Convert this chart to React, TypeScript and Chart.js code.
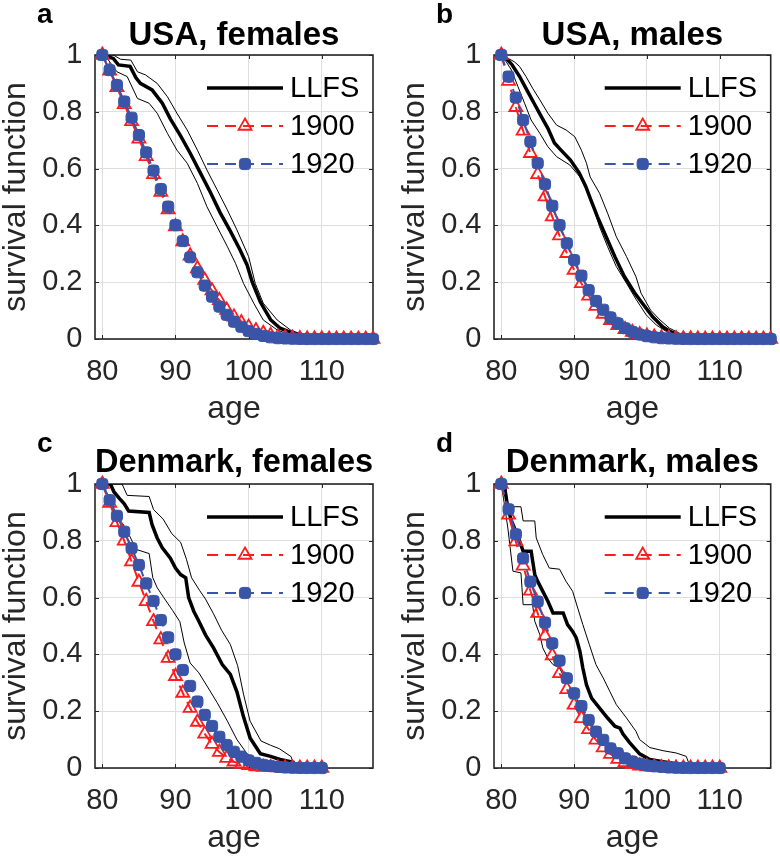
import React, { useEffect, useRef } from 'react';
import { Chart, registerables } from 'chart.js';
import { drawPoint } from 'chart.js/helpers';

Chart.register(...registerables);

const FONT = "'Liberation Sans', Arial, Helvetica, sans-serif";
const RED = '#ff1c1c';
const BLUE = '#3a55a8';
const AXIS = '#262626';
const GRID = '#dedede';

// ---- axes ----
const xTicks = [80, 90, 100, 110];
const yTicks = [0, 0.2, 0.4, 0.6, 0.8, 1];
const xMin = 79;
const xMax = 117;

// ---- cohort ages ----
const agesUSA = [80, 81, 82, 83, 84, 85, 86, 87, 88, 89, 90, 91, 92, 93, 94, 95, 96, 97, 98, 99,
  100, 101, 102, 103, 104, 105, 106, 107, 108, 109, 110, 111, 112, 113, 114, 115, 116, 117];
const agesDK = [80, 81, 82, 83, 84, 85, 86, 87, 88, 89, 90, 91, 92, 93, 94, 95, 96, 97, 98, 99,
  100, 101, 102, 103, 104, 105, 106, 107, 108, 109, 110];

// ---- USA, females ----
const usaF1900 = [1.0, 0.944, 0.886, 0.826, 0.766, 0.705, 0.643, 0.58, 0.517, 0.456, 0.396, 0.343, 0.293,
  0.248, 0.207, 0.17, 0.136, 0.102, 0.078, 0.058, 0.042, 0.03, 0.02, 0.013, 0.008, 0.005, 0.003, 0.002,
  0.001, 0.001, 0.0005, 0, 0, 0, 0, 0, 0, 0];
const usaF1920 = [1.0, 0.947, 0.894, 0.836, 0.779, 0.718, 0.657, 0.593, 0.528, 0.466, 0.401, 0.345, 0.288,
  0.235, 0.188, 0.149, 0.114, 0.085, 0.061, 0.043, 0.028, 0.018, 0.011, 0.006, 0.003, 0.002, 0.001, 0.0005,
  0, 0, 0, 0, 0, 0, 0, 0, 0, 0];
const usaFLLFS = [[80, 1], [81.5, 0.988], [82.2, 0.965], [83.8, 0.96], [84.6, 0.92], [85.2, 0.9], [86.8, 0.877],
  [88.2, 0.83], [89.3, 0.775], [90.7, 0.715], [92, 0.655], [93.4, 0.585], [94.8, 0.515], [96.1, 0.445],
  [97.5, 0.38], [98.8, 0.315], [99.8, 0.26], [100.5, 0.2], [101.6, 0.13], [103, 0.068], [104.3, 0.038],
  [106.1, 0.02], [107.9, 0.008], [110, 0]];
const usaFUpper = [[80, 1], [81.5, 1], [82.5, 0.985], [83.9, 0.982], [84.8, 0.941], [85.9, 0.93], [87.5, 0.9],
  [88.9, 0.853], [90.2, 0.795], [91.6, 0.736], [93, 0.665], [94.3, 0.595], [95.7, 0.525], [97.1, 0.454],
  [98.4, 0.384], [100, 0.29], [100.9, 0.196], [102, 0.126], [103.9, 0.067], [105.7, 0.032], [107.5, 0.014],
  [109.8, 0.006], [111, 0]];
const usaFLower = [[80, 1], [80.5, 0.994], [82, 0.941], [83.4, 0.924], [84.8, 0.847], [86.4, 0.83], [87.5, 0.795],
  [88.9, 0.724], [90.2, 0.665], [91.6, 0.619], [93, 0.548], [94.3, 0.466], [95.7, 0.395], [97.1, 0.325],
  [98.2, 0.267], [99.3, 0.196], [100.7, 0.126], [102, 0.067], [103.9, 0.032], [105.7, 0.014], [107.5, 0.004],
  [109, 0]];

// ---- USA, males ----
const usaM1900 = [1.0, 0.908, 0.816, 0.733, 0.654, 0.58, 0.501, 0.431, 0.364, 0.302, 0.243, 0.196, 0.152,
  0.116, 0.088, 0.066, 0.048, 0.034, 0.024, 0.016, 0.011, 0.007, 0.004, 0.003, 0.002, 0.001, 0.001, 0.0005,
  0, 0, 0, 0, 0, 0, 0, 0, 0, 0];
const usaM1920 = [1.0, 0.924, 0.85, 0.771, 0.695, 0.619, 0.545, 0.469, 0.401, 0.337, 0.278, 0.223, 0.172,
  0.134, 0.103, 0.076, 0.055, 0.038, 0.025, 0.016, 0.01, 0.006, 0.003, 0.002, 0.001, 0.0005,
  0, 0, 0, 0, 0, 0, 0, 0, 0, 0, 0, 0];
const usaMLLFS = [[80, 1], [80.8, 0.985], [81.5, 0.965], [82.5, 0.925], [83.5, 0.877], [84.5, 0.83], [85.5, 0.783],
  [86.4, 0.742], [87.3, 0.69], [88.2, 0.665], [89.5, 0.63], [90.7, 0.585], [91.6, 0.537], [92.3, 0.49],
  [93.2, 0.431], [94.4, 0.36], [95.6, 0.29], [96.9, 0.22], [98.3, 0.163], [99.4, 0.125], [100.8, 0.078],
  [102.2, 0.042], [103.4, 0.024], [104.5, 0.012], [105.5, 0.004], [106.5, 0]];
const usaMUpper = [[80, 1], [80.8, 0.99], [81.8, 0.976], [82.5, 0.96], [83.4, 0.924], [84.3, 0.883], [85.3, 0.842],
  [86.4, 0.795], [87.6, 0.753], [88.9, 0.736], [90.1, 0.712], [91, 0.665], [91.7, 0.619], [92.2, 0.571],
  [93.5, 0.513], [94.6, 0.443], [95.8, 0.36], [97.2, 0.29], [98.5, 0.219], [99.2, 0.161], [100.5, 0.102],
  [101.8, 0.067], [103.1, 0.038], [104.5, 0.02], [105.9, 0.008], [107, 0]];
const usaMLower = [[80, 1], [80.7, 0.975], [81.4, 0.947], [82.3, 0.888], [83.2, 0.83], [84.1, 0.771], [85.3, 0.724],
  [86.4, 0.677], [87.6, 0.642], [89.4, 0.613], [90.8, 0.571], [91.7, 0.525], [92.6, 0.466], [93.5, 0.395],
  [94.6, 0.325], [95.8, 0.255], [97.2, 0.196], [98.5, 0.14], [99.9, 0.085], [101.3, 0.049], [102.7, 0.026],
  [104.1, 0.012], [105.5, 0.004], [106.5, 0]];

// ---- Denmark, females ----
const dkF1900 = [1.0, 0.933, 0.865, 0.8, 0.727, 0.655, 0.587, 0.516, 0.452, 0.387, 0.323, 0.264, 0.211,
  0.162, 0.12, 0.084, 0.056, 0.035, 0.022, 0.014, 0.009, 0.005, 0.003, 0.002, 0.001, 0.0005, 0, 0, 0, 0, 0];
const dkF1920 = [1.0, 0.943, 0.888, 0.832, 0.774, 0.715, 0.65, 0.588, 0.521, 0.46, 0.4, 0.345, 0.289,
  0.234, 0.187, 0.148, 0.11, 0.081, 0.057, 0.04, 0.027, 0.018, 0.011, 0.007, 0.004, 0.002, 0.001, 0.0005, 0, 0, 0];
const dkFLLFS = [[80, 1], [81.1, 1], [81.6, 0.972], [82.3, 0.95], [83, 0.93], [83.6, 0.905], [86.4, 0.9],
  [86.8, 0.857], [87.5, 0.81], [88.2, 0.775], [89.3, 0.739], [90, 0.704], [90.7, 0.681], [91.4, 0.67],
  [91.8, 0.6], [92.5, 0.552], [93.2, 0.517], [94.1, 0.469], [95.2, 0.423], [96.4, 0.364], [97.5, 0.33],
  [98.4, 0.268], [99.3, 0.18], [100.2, 0.106], [101.6, 0.05], [103, 0.041], [104.3, 0.03], [106.1, 0.02],
  [106.3, 0]];
const dkFUpper = [[80, 1], [82.7, 1], [83.4, 0.96], [86.4, 0.956], [87, 0.91], [88.3, 0.877], [89.5, 0.825],
  [90.7, 0.795], [91.5, 0.735], [92.2, 0.67], [93.3, 0.625], [94.1, 0.595], [95.2, 0.543], [96.3, 0.485],
  [97.5, 0.435], [98.5, 0.36], [99.3, 0.26], [100.2, 0.165], [101.7, 0.095], [103, 0.08], [104.2, 0.068],
  [105.8, 0.04], [106.3, 0]];
const dkFLower = [[80, 1], [80.6, 0.97], [81.2, 0.94], [82, 0.88], [82.8, 0.86], [83.5, 0.83], [84.6, 0.77],
  [86.4, 0.755], [86.9, 0.67], [87.5, 0.635], [88.4, 0.6], [89.6, 0.555], [90.6, 0.515], [91.2, 0.44],
  [92, 0.37], [93.2, 0.335], [94.4, 0.285], [95.7, 0.23], [97.1, 0.165], [98.4, 0.1], [99.8, 0.05],
  [101.1, 0.028], [102.5, 0.01], [104, 0]];

// ---- Denmark, males ----
const dkM1900 = [1.0, 0.891, 0.797, 0.712, 0.624, 0.545, 0.465, 0.396, 0.333, 0.277, 0.222, 0.175, 0.136,
  0.099, 0.072, 0.049, 0.031, 0.02, 0.013, 0.008, 0.005, 0.003, 0.002, 0.001, 0.0005, 0, 0, 0, 0, 0, 0];
const dkM1920 = [1.0, 0.911, 0.823, 0.738, 0.656, 0.586, 0.512, 0.439, 0.378, 0.316, 0.263, 0.218, 0.169,
  0.128, 0.099, 0.069, 0.052, 0.034, 0.023, 0.015, 0.009, 0.006, 0.004, 0.002, 0.001, 0.0005, 0, 0, 0, 0, 0];
const dkMLLFS = [[80, 1], [80.5, 0.98], [80.9, 0.915], [81.4, 0.87], [82.1, 0.827], [82.7, 0.786], [83, 0.763],
  [84.1, 0.763], [84.6, 0.681], [85, 0.657], [85.7, 0.622], [86.4, 0.587], [87.1, 0.546], [88.5, 0.546],
  [89.1, 0.505], [89.8, 0.481], [90.3, 0.458], [90.8, 0.411], [91.2, 0.352], [91.7, 0.293], [92.4, 0.246],
  [93.5, 0.211], [94.6, 0.176], [95.6, 0.147], [96.3, 0.14], [96.7, 0.12], [97.6, 0.09], [99, 0.05],
  [100.4, 0.03], [102.2, 0.022], [104, 0.015], [105, 0.01], [105.5, 0]];
const dkMUpper = [[80, 1], [80.6, 1], [80.9, 0.92], [82.7, 0.92], [83, 0.87], [84.6, 0.87], [84.8, 0.81],
  [85.7, 0.751], [86.6, 0.704], [88, 0.7], [88.9, 0.657], [89.8, 0.622], [90.5, 0.563], [91.2, 0.505],
  [92.1, 0.434], [93, 0.364], [94, 0.317], [94.9, 0.27], [95.8, 0.223], [97.2, 0.176], [98.5, 0.129],
  [99, 0.1], [100.4, 0.072], [102.2, 0.061], [104, 0.053], [105.4, 0.041], [106, 0]];
const dkMLower = [[80, 1], [80.3, 0.95], [80.9, 0.845], [81.2, 0.78], [81.6, 0.693], [82.7, 0.687], [83, 0.575],
  [84.3, 0.575], [84.6, 0.517], [85.3, 0.469], [85.7, 0.423], [86.4, 0.387], [87.1, 0.364], [88, 0.352],
  [88.7, 0.317], [89.8, 0.27], [90.8, 0.223], [91.7, 0.176], [93, 0.129], [94.4, 0.094], [95.8, 0.064],
  [97.2, 0.047], [98.5, 0.03], [100, 0.015], [101.5, 0.005], [103, 0]];

const legendLabels = ['LLFS', '1900', '1920'];

type Panel = {
  key: string; left: number; top: number; letter: string; title: string; titleTop: number;
  yAxisWidth: number; padRight: number; ages: number[]; c1900: number[]; c1920: number[];
  llfs: number[][]; upper: number[][]; lower: number[][];
};

const panels: Panel[] = [
  { key: 'a', left: 0, top: 0, letter: 'a', title: 'USA, females', titleTop: 19, yAxisWidth: 95, padRight: 17,
    ages: agesUSA, c1900: usaF1900, c1920: usaF1920, llfs: usaFLLFS, upper: usaFUpper, lower: usaFLower },
  { key: 'b', left: 390, top: 0, letter: 'b', title: 'USA, males', titleTop: 19, yAxisWidth: 104, padRight: 8,
    ages: agesUSA, c1900: usaM1900, c1920: usaM1920, llfs: usaMLLFS, upper: usaMUpper, lower: usaMLower },
  { key: 'c', left: 0, top: 429, letter: 'c', title: 'Denmark, females', titleTop: 17, yAxisWidth: 95, padRight: 17,
    ages: agesDK, c1900: dkF1900, c1920: dkF1920, llfs: dkFLLFS, upper: dkFUpper, lower: dkFLower },
  { key: 'd', left: 390, top: 429, letter: 'd', title: 'Denmark, males', titleTop: 17, yAxisWidth: 104, padRight: 8,
    ages: agesDK, c1900: dkM1900, c1920: dkM1920, llfs: dkMLLFS, upper: dkMUpper, lower: dkMLower },
];

const W = 390;
const H = 429;
const PLOT_TOP = 55;
const X_AXIS_H = 90;
const TITLE_SIZE = 33;

const toXY = (xs: number[], ys: number[]) => xs.map((x, i) => ({ x, y: ys[i] }));
const pairXY = (ps: number[][]) => ps.map(([x, y]) => ({ x, y }));

const framePlugin = {
  id: 'matlabFrame',
  beforeDatasetsDraw(chart: any) {
    const { ctx, chartArea, scales } = chart;
    const { left, top, right, bottom } = chartArea;
    ctx.save();
    ctx.strokeStyle = AXIS;
    ctx.lineWidth = 1;
    ctx.beginPath();
    for (const t of scales.x.ticks) {
      const px = Math.round(scales.x.getPixelForValue(t.value)) + 0.5;
      ctx.moveTo(px, bottom); ctx.lineTo(px, bottom - 4);
      ctx.moveTo(px, top); ctx.lineTo(px, top + 4);
    }
    for (const t of scales.y.ticks) {
      const py = Math.round(scales.y.getPixelForValue(t.value)) + 0.5;
      ctx.moveTo(left, py); ctx.lineTo(left + 4, py);
      ctx.moveTo(right, py); ctx.lineTo(right - 4, py);
    }
    ctx.stroke();
    ctx.lineWidth = 1.6;
    ctx.strokeRect(left, top, right - left, bottom - top);
    ctx.restore();
  },
};

const legendPlugin = {
  id: 'matlabLegend',
  afterDatasetsDraw(chart: any, _args: any, opts: any) {
    const { ctx, chartArea } = chart;
    const { right, top } = chartArea;
    (opts.entries || []).forEach((e: any, i: number) => {
      const ds = chart.data.datasets[e.index];
      const y = top + 33 + i * 38;
      const x0 = right - 166;
      const x1 = right - 90;
      ctx.save();
      ctx.strokeStyle = ds.borderColor;
      ctx.lineWidth = ds.borderWidth;
      ctx.setLineDash(ds.borderDash || []);
      ctx.beginPath();
      ctx.moveTo(x0, y);
      ctx.lineTo(x1, y);
      ctx.stroke();
      ctx.setLineDash([]);
      if (ds.pointRadius > 0) {
        ctx.fillStyle = ds.pointBackgroundColor;
        ctx.strokeStyle = ds.pointBorderColor;
        ctx.lineWidth = ds.pointBorderWidth;
        drawPoint(ctx, { pointStyle: ds.pointStyle, radius: ds.pointRadius, borderWidth: ds.pointBorderWidth, rotation: 0 } as any, (x0 + x1) / 2, y);
      }
      ctx.fillStyle = '#000';
      ctx.font = `29px ${FONT}`;
      ctx.textAlign = 'left';
      ctx.textBaseline = 'middle';
      ctx.fillText(e.label, right - 83, y + 1);
      ctx.restore();
    });
  },
};

const letterPlugin = {
  id: 'panelLetter',
  afterDraw(chart: any, _args: any, opts: any) {
    const { ctx } = chart;
    ctx.save();
    ctx.fillStyle = '#000';
    ctx.font = `bold 28px ${FONT}`;
    ctx.textAlign = 'left';
    ctx.textBaseline = 'alphabetic';
    ctx.fillText(opts.text, opts.x, opts.y);
    ctx.restore();
  },
};

function SurvivalPanel({ p }: { p: Panel }) {
  const ref = useRef<HTMLCanvasElement>(null);
  useEffect(() => {
    if (!ref.current) return;
    const chart = new Chart(ref.current, {
      type: 'line',
      data: {
        datasets: [
          { label: legendLabels[2], data: toXY(p.ages, p.c1920), borderColor: BLUE, borderWidth: 2, borderDash: [11, 7],
            pointStyle: 'rectRounded', pointRadius: 6.5, pointBackgroundColor: BLUE, pointBorderColor: BLUE,
            pointBorderWidth: 1, order: 0, clip: false, tension: 0 } as any,
          { label: legendLabels[1], data: toXY(p.ages, p.c1900), borderColor: RED, borderWidth: 2, borderDash: [11, 7],
            pointStyle: 'triangle', pointRadius: 7.5, pointBackgroundColor: 'rgba(255,255,255,0)', pointBorderColor: RED,
            pointBorderWidth: 1.8, order: 1, clip: false, tension: 0 } as any,
          { label: legendLabels[0], data: pairXY(p.llfs), borderColor: '#000', borderWidth: 3.5, pointRadius: 0,
            order: 2, tension: 0 } as any,
          { label: 'upper', data: pairXY(p.upper), borderColor: '#000', borderWidth: 1, pointRadius: 0, order: 3, tension: 0 } as any,
          { label: 'lower', data: pairXY(p.lower), borderColor: '#000', borderWidth: 1, pointRadius: 0, order: 4, tension: 0 } as any,
        ],
      },
      options: {
        responsive: false,
        animation: false,
        events: [],
        devicePixelRatio: 1,
        layout: { padding: { left: 0, right: p.padRight, top: 0, bottom: 0 } },
        plugins: {
          legend: { display: false },
          tooltip: { enabled: false },
          title: {
            display: true, text: p.title, fullSize: false, color: '#000',
            font: { family: FONT, size: TITLE_SIZE, weight: 'bold', lineHeight: 1 },
            padding: { top: p.titleTop, bottom: PLOT_TOP - TITLE_SIZE - p.titleTop },
          },
          matlabLegend: { entries: [
            { index: 2, label: legendLabels[0] },
            { index: 1, label: legendLabels[1] },
            { index: 0, label: legendLabels[2] },
          ] },
          panelLetter: { text: p.letter, x: p.yAxisWidth - 58, y: 23 },
        } as any,
        scales: {
          x: {
            type: 'linear', min: xMin, max: xMax,
            afterBuildTicks: (s: any) => { s.ticks = xTicks.map((v) => ({ value: v })); },
            afterFit: (s: any) => { s.height = X_AXIS_H; },
            grid: { color: GRID, lineWidth: 1, drawTicks: false },
            border: { display: false },
            ticks: { color: AXIS, font: { family: FONT, size: 29, lineHeight: 1 }, padding: 18, maxRotation: 0, autoSkip: false,
              callback: (v: any) => String(v) },
            title: { display: true, text: 'age', color: AXIS, font: { family: FONT, size: 32, lineHeight: 1 }, padding: { top: 0, bottom: 4 } },
          },
          y: {
            type: 'linear', min: 0, max: 1,
            afterBuildTicks: (s: any) => { s.ticks = yTicks.map((v) => ({ value: v })); },
            afterFit: (s: any) => { s.width = p.yAxisWidth; },
            grid: { color: GRID, lineWidth: 1, drawTicks: false },
            border: { display: false },
            ticks: { color: AXIS, font: { family: FONT, size: 29, lineHeight: 1 }, padding: 12.5,
              callback: (v: any) => String(parseFloat(Number(v).toFixed(1))) },
            title: { display: true, text: 'survival function', color: AXIS, font: { family: FONT, size: 32, lineHeight: 1 },
              padding: { top: p.yAxisWidth - 95, bottom: 0 } },
          },
        } as any,
      },
      plugins: [framePlugin, legendPlugin, letterPlugin],
    });
    return () => chart.destroy();
  }, [p]);
  return (
    <canvas ref={ref} width={W} height={H}
      style={{ position: 'absolute', left: p.left, top: p.top, width: W, height: H, display: 'block' }} />
  );
}

export default function App() {
  return (
    <div style={{ position: 'absolute', left: 0, top: 0, width: 780, height: 863, background: '#fff' }}>
      {panels.map((p) => <SurvivalPanel key={p.key} p={p} />)}
    </div>
  );
}
